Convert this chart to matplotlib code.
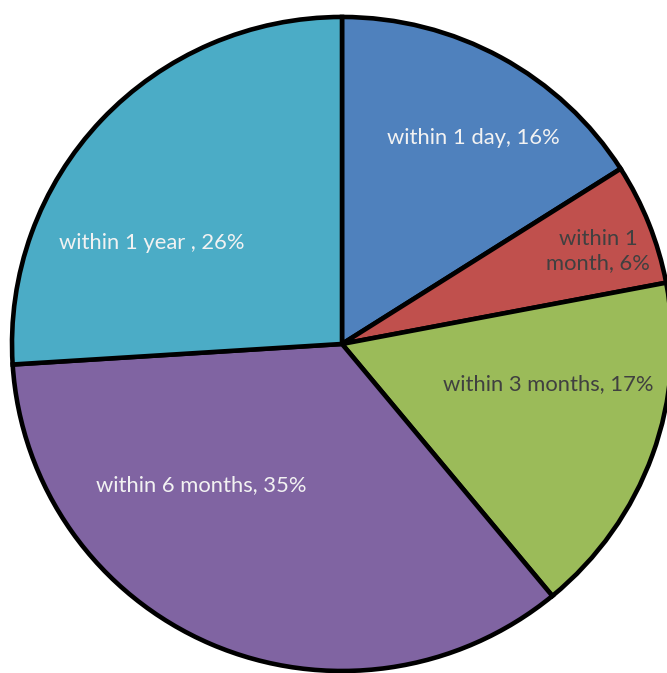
import matplotlib
matplotlib.use("Agg")
import matplotlib.pyplot as plt

labels = ["within 1 day, 16%", "within 1\nmonth, 6%", "within 3 months, 17%",
          "within 6 months, 35%", "within 1 year , 26%"]
values = [16, 6, 17, 35, 26]
colors = ["#4F81BD", "#C0504D", "#9BBB59", "#8064A2", "#4BACC6"]
text_colors = ["#F2F2F2", "#404040", "#404040", "#F2F2F2", "#F2F2F2"]
# label anchor points (axes data units)
label_pos = [(0.397, 0.630), (0.776, 0.284), (0.624, -0.122), (-0.427, -0.431), (-0.576, 0.309)]


def main():
    fig = plt.figure(figsize=(6.67, 6.73), dpi=100)
    ax = fig.add_axes([0.018, 0.003, 0.9895, 0.9718])
    ax.pie(values, colors=colors, startangle=90, counterclock=False, radius=1,
           wedgeprops=dict(edgecolor="black", linewidth=3.3))
    ax.set_aspect("auto")
    ax.set_xlim(-1, 1)
    ax.set_ylim(-1, 1)
    ax.axis("off")

    for lab, (x, y), c in zip(labels, label_pos, text_colors):
        ax.text(x, y, lab, ha="center", va="center", color=c, fontsize=15.8,
                family="Lato", linespacing=1.25)

    fig.savefig("out.png", dpi=100)
    plt.close(fig)


if __name__ == "__main__":
    main()
